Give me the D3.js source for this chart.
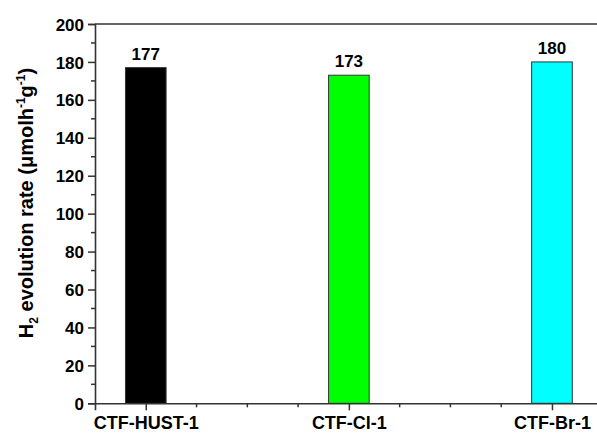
<!DOCTYPE html>
<html>
<head>
<meta charset="utf-8">
<script src="https://cdn.jsdelivr.net/npm/d3@7"></script>
<style>
  html, body { margin: 0; padding: 0; background: #fff; }
  svg { display: block; }
  text { font-family: Arial, "Liberation Sans", Helvetica, sans-serif; font-weight: bold; fill: #000; }
</style>
</head>
<body>
<svg id="chart" width="597" height="434"></svg>
<script>
// Hydrogen evolution rates of the three frameworks
const categories = ["CTF-HUST-1", "CTF-Cl-1", "CTF-Br-1"];
const rates = [177, 173, 180];
const barColors = ["#000000", "#00ff00", "#00ffff"];
const yTicks = [0, 20, 40, 60, 80, 100, 120, 140, 160, 180, 200];

const svg = d3.select("#chart");
const axisColor = "#333";

// categories sit at 1, 2, 3 on a continuous axis so minor ticks can fall between them
const x = d3.scaleLinear().domain([0.75, 3.25]).range([95, 602.75]);
const y = d3.scaleLinear().domain([0, 200]).range([403.3, 24]);
const barW = x(1.2) - x(1);

// bars
svg.append("g").selectAll("rect")
  .data(rates)
  .join("rect")
  .attr("x", (d, i) => x(i + 1) - barW / 2)
  .attr("y", d => y(d))
  .attr("width", barW)
  .attr("height", d => y(0) - y(d))
  .attr("fill", (d, i) => barColors[i])
  .attr("stroke", "#333")
  .attr("stroke-width", 1);

// value labels above bars
svg.append("g").selectAll("text")
  .data(rates)
  .join("text")
  .attr("x", (d, i) => x(i + 1))
  .attr("y", d => y(d) - 8)
  .attr("text-anchor", "middle")
  .style("font-size", "17px")
  .text(d => d);

// top frame line
svg.append("line")
  .attr("x1", x(0.75)).attr("x2", x(3.25))
  .attr("y1", y(200)).attr("y2", y(200))
  .attr("stroke", axisColor).attr("stroke-width", 1.6);
svg.append("line")
  .attr("x1", x(3.25)).attr("x2", x(3.25))
  .attr("y1", y(200)).attr("y2", y(0))
  .attr("stroke", axisColor).attr("stroke-width", 1.6);

// y axis: major ticks with labels, minor ticks between
const yAxis = svg.append("g").attr("transform", `translate(${x(0.75)},0)`);
yAxis.call(d3.axisLeft(y).tickValues(yTicks).tickSize(7).tickPadding(4).tickFormat(d3.format("d")));
yAxis.append("g").selectAll("line")
  .data(d3.range(10, 200, 20))
  .join("line")
  .attr("x1", -4).attr("x2", 0)
  .attr("y1", d => y(d)).attr("y2", d => y(d))
  .attr("stroke", axisColor).attr("stroke-width", 1.5);
yAxis.select(".domain").attr("stroke", axisColor).attr("stroke-width", 1.6);
yAxis.selectAll(".tick line").attr("stroke", axisColor).attr("stroke-width", 1.5);
yAxis.selectAll(".tick text")
  .style("font-size", "17px")
  .style("font-family", "Arial, 'Liberation Sans', sans-serif")
  .style("font-weight", "bold")
  .attr("fill", "#000")
  .attr("dy", "0.36em");

// x axis: category ticks with labels, minor ticks at quarter steps
const xAxis = svg.append("g").attr("transform", `translate(0,${y(0)})`);
xAxis.call(d3.axisBottom(x).tickValues([1, 2, 3]).tickSize(7).tickPadding(6)
  .tickFormat(d => categories[d - 1]));
xAxis.append("g").selectAll("line")
  .data([1.25, 1.5, 1.75, 2.25, 2.5, 2.75])
  .join("line")
  .attr("x1", d => x(d)).attr("x2", d => x(d))
  .attr("y1", 0).attr("y2", 4)
  .attr("stroke", axisColor).attr("stroke-width", 1.5);
xAxis.select(".domain").attr("stroke", axisColor).attr("stroke-width", 1.6);
xAxis.selectAll(".tick line").attr("stroke", axisColor).attr("stroke-width", 1.5);
xAxis.selectAll(".tick text")
  .style("font-size", "18px")
  .style("font-family", "Arial, 'Liberation Sans', sans-serif")
  .style("font-weight", "bold")
  .attr("fill", "#000");

// y axis title with subscript and superscripts
const title = svg.append("text")
  .attr("transform", `translate(33,${(60 + 346) / 2}) rotate(-90)`)
  .attr("text-anchor", "middle")
  .style("font-size", "20px");
title.append("tspan").text("H");
title.append("tspan").attr("dy", 5).style("font-size", "12px").text("2");
title.append("tspan").attr("dy", -5).text(" evolution rate (\u03bcmolh");
title.append("tspan").attr("dy", -8).style("font-size", "12px").text("-1");
title.append("tspan").attr("dy", 8).text("g");
title.append("tspan").attr("dy", -8).style("font-size", "12px").text("-1");
title.append("tspan").attr("dy", 8).text(")");
</script>
</body>
</html>
